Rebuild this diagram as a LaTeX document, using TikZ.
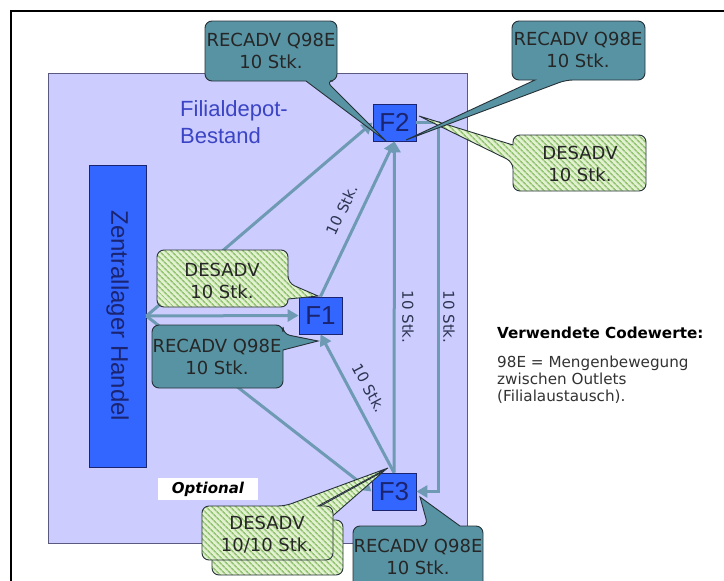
\documentclass[tikz,border=0pt]{standalone}
\usepackage{fontspec}
\setmainfont{DejaVu Sans}
\newfontfamily\arialf{Liberation Sans}
\usetikzlibrary{arrows.meta,patterns.meta}
\definecolor{lav}{HTML}{CCCCFF}
\definecolor{lavedge}{HTML}{5A5A80}
\definecolor{boxblue}{HTML}{3366FF}
\definecolor{navy}{HTML}{1A2470}
\definecolor{arrowc}{HTML}{6E9AB3}
\definecolor{tealc}{HTML}{5893A3}
\definecolor{edgec}{HTML}{263238}
\definecolor{hatchbg}{HTML}{E2F1D0}
\definecolor{hatchfg}{HTML}{94C474}
\definecolor{labc}{HTML}{2C3550}
\definecolor{titleblue}{HTML}{3A44C4}
\begin{document}
\begin{tikzpicture}[x=1pt,y=-1pt,
  fbox/.style={draw=navy, line width=0.8pt, fill=boxblue, minimum width=43pt,
    minimum height=37pt, inner sep=0pt, text=navy,
    font=\arialf\fontsize{26}{26}\selectfont},
  flow/.style={draw=arrowc, line width=3pt, -{Triangle[length=11pt,width=12pt]}},
  qty/.style={font=\fontsize{15}{15}\selectfont, text=labc, inner sep=0pt},
  recadv/.style={fill=tealc, draw=edgec, line width=0.9pt, rounded corners=7pt},
  desadv/.style={preaction={fill=hatchbg},
    pattern={Lines[angle=-45,distance=4pt,line width=1.7pt]},
    pattern color=hatchfg, draw=edgec, line width=0.9pt, rounded corners=7pt},
  ctext/.style={align=center, inner sep=0pt, text=black!85,
    font=\fontsize{18}{22}\selectfont},
]
\useasboundingbox (0,0) rectangle (724,581);
\clip (0,0) rectangle (724,581);
\fill[white] (0,0) rectangle (724,581);

% outer frame
\draw[line width=1.8pt] (11,600) -- (11,11) -- (740,11);

% depot area
\draw[fill=lav, draw=lavedge, line width=0.8pt] (48,73) rectangle (467,543);
\node[anchor=north west, align=left, text=titleblue, inner sep=0pt,
  font=\arialf\fontsize{22}{27}\selectfont] (title) at (180,100)
  {Filialdepot-\\Bestand};

% central warehouse
\node[draw=navy, line width=0.8pt, fill=boxblue, minimum width=57pt,
  minimum height=302pt, inner sep=0pt] (ZH) at (117.5,316) {};
\node[rotate=-90, text=navy, inner sep=0pt,
  font=\arialf\fontsize{24}{24}\selectfont] (ZHtext) at (ZH.center)
  {Zentrallager Handel};

% branches
\node[fbox] (F2) at (394.5,122.5) {F2};
\node[fbox] (F1) at (320.5,315.5) {F1};
\node[fbox, minimum width=44pt] (F3) at (394,491.5) {F3};

% flows
\draw[flow] (ZH.east) -- (F1.west);
\draw[flow] (ZH.east) -- (F2.west);
\draw[flow] (ZH.east) -- (F3.west);
\draw[flow] (F1.north) -- (F2.south);
\draw[flow] (F3.north) -- (F2.south);
\draw[flow] (F3.north) -- (F1.south);
\draw[flow] (F2.east) -- ++(22,0) |- (F3.east);

% quantities on the flows
\node[qty, rotate=65] (q1) at (342,210) {10 Stk.};
\node[qty, rotate=-90] (q2) at (408,317) {10 Stk.};
\node[qty, rotate=-90] (q3) at (449,317) {10 Stk.};
\node[qty, rotate=-62] (q4) at (369,388) {10 Stk.};

% optional marker
\node[fill=white, minimum width=100pt, minimum height=22pt, inner sep=0pt,
  font=\bfseries\itshape\fontsize{15}{15}\selectfont] (opt) at (208,489) {Optional};

% messages at F2
\draw[recadv] (271,21) -- (337,21) -- (337,81) -- (326,81) [sharp corners]
  -- (386,141) -- (306,81) [rounded corners=7pt] -- (205,81) -- (205,21) -- cycle;
\node[ctext] (m1) at (271,51) {RECADV Q98E\\10 Stk.};

\draw[desadv] (580,135) -- (646,135) -- (646,191) -- (513,191) -- (513,162)
  [sharp corners] -- (419,116) -- (513,145) [rounded corners=7pt] -- (513,135) -- cycle;
\node[ctext] (m3) at (580,164) {DESADV\\10 Stk.};

\draw[recadv] (578,21) -- (645,21) -- (645,80) -- (566,80) [sharp corners]
  -- (406,140) -- (535,80) [rounded corners=7pt] -- (512,80) -- (512,21) -- cycle;
\node[ctext] (m2) at (578,50) {RECADV Q98E\\10 Stk.};

% messages at F1
\draw[desadv] (222,250) -- (288,250) -- (288,283) [sharp corners]
  -- (318,296) -- (288,299) [rounded corners=7pt] -- (288,307) -- (157,307)
  -- (157,250) -- cycle;
\node[ctext] (m4) at (222,281) {DESADV\\10 Stk.};

\draw[recadv] (217,325) -- (283,325) -- (283,334) [sharp corners]
  -- (318,341) -- (283,350) [rounded corners=7pt] -- (283,388) -- (152,388)
  -- (152,325) -- cycle;
\node[ctext] (m5) at (217,357) {RECADV Q98E\\10 Stk.};

% messages at F3
\draw[desadv] (212,548) -- (212,520) -- (295,520) [sharp corners]
  -- (384,471) -- (328,520) [rounded corners=7pt] -- (343,520) -- (343,575)
  -- (212,575) -- cycle;
\draw[desadv] (202,533) -- (202,506) -- (285,506) [sharp corners]
  -- (388,468) -- (318,506) [rounded corners=7pt] -- (333,506) -- (333,560)
  -- (202,560) -- cycle;
\node[ctext] (m6) at (267,535) {DESADV\\10/10 Stk.};

\draw[recadv] (353,560) -- (353,526) -- (428,526) [sharp corners]
  -- (420,497) -- (460,526) [rounded corners=7pt] -- (483,526) -- (483,595)
  -- (353,595) -- cycle;
\node[ctext] (m7) at (418,557) {RECADV Q98E\\10 Stk.};

% code legend
\node[anchor=west, inner sep=0pt, font=\bfseries\fontsize{15.2}{17}\selectfont]
  (legT) at (497,333) {Verwendete Codewerte:};
\node[anchor=north west, align=left, inner sep=0pt, text=black!80,
  font=\fontsize{15.2}{16.8}\selectfont] (legB) at (497,356)
  {98E = Mengenbewegung\\zwischen Outlets\\(Filialaustausch).};
\end{tikzpicture}
\end{document}
